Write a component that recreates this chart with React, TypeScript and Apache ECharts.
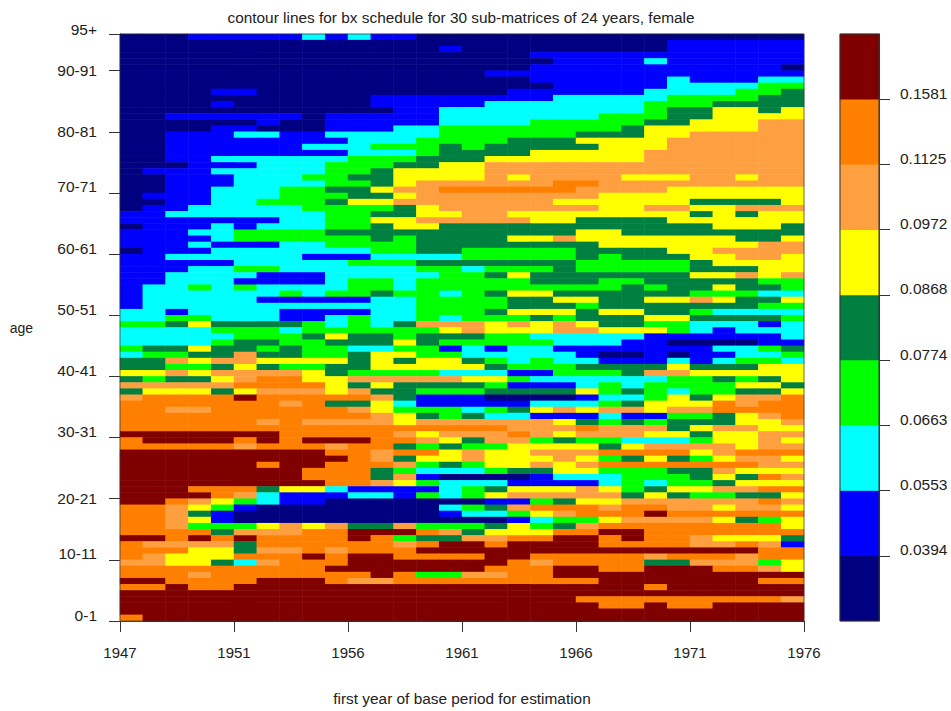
import React, { useEffect, useRef } from "react";
import * as echarts from "echarts";

const years = ["1947","1948","1949","1950","1951","1952","1953","1954","1955","1956","1957","1958","1959","1960","1961","1962","1963","1964","1965","1966","1967","1968","1969","1970","1971","1972","1973","1974","1975","1976"];
const xTickValues = [0, 5, 10, 15, 20, 25, 30];
const xTickLabels = ["1947", "1951", "1956", "1961", "1966", "1971", "1976"];
const ageTickValues = [0, 10, 20, 30, 40, 50, 60, 70, 80, 90, 96];
const ageTickLabels = ["0-1", "10-11", "20-21", "30-31", "40-41", "50-51", "60-61", "70-71", "80-81", "90-91", "95+"];
const ageLabelStyle = ["b", "b", "a", "b", "b", "b", "b", "b", "a", "a", "c"];
const classColors = ["#000080", "#0000ff", "#00ffff", "#00ff00", "#008040", "#ffff00", "#ffa040", "#ff8000", "#800000"];
const barClasses = [0, 1, 2, 3, 4, 5, 6, 7, 8];
const barBreaks = [1, 2, 3, 4, 5, 6, 7, 8];
const barLabels = ["0.0394", "0.0553", "0.0663", "0.0774", "0.0868", "0.0972", "0.1125", "0.1581"];

// contour class of each cell; top row = oldest age (95+), one character per year
const rows = [
"0001111121 2110000000 0000000000",
"0000000000 0000000000 0000111111",
"0000000000 0000100000 0000111111",
"0000000000 0000000011 1111111111",
"0000000000 0000000001 1112111111",
"0000000000 0000000011 1111111110",
"0000000000 0000001111 1111111111",
"0000000000 0000000011 1111211122",
"0000000000 0000000001 1111222233",
"0000110000 0000000111 1112222334",
"0000000000 0111111112 2222333344",
"0000100000 0111112222 2223334444",
"0000000000 0011222222 2223445545",
"0011111101 1111222222 2333445555",
"0000001001 1111222233 3334455566",
"0000110001 1122333333 3345555566",
"0011122112 2222333333 4445566666",
"0011111111 2223333444 5555666666",
"0011111122 2333434444 4555666666",
"0011111111 2223444455 5556666666",
"0011222222 3334445555 5556666666",
"0001112223 3344556666 6666666666",
"0111222223 3455556666 6666666666",
"0011122233 4455556566 6655566566",
"0011122223 3456666667 7666666666",
"0011222334 4566777777 6666555555",
"0111222333 4456666666 6555555555",
"0011223334 5566666665 5555544445",
"0112222233 3345666666 6556655666",
"1122222223 3445566555 5555545455",
"1111111223 3556666655 4444555555",
"0111212223 3455444444 4444445554",
"1112233334 4444444444 5544444444",
"1111233333 3434444556 5555555445",
"1112111223 3334444444 4555555566",
"0111222222 2334433333 4444556666",
"1122222211 1222233333 4344455665",
"1111122222 3334444444 3333345555",
"1112233222 2223323334 3333344455",
"1122221112 2222334544 4444455656",
"1122211112 3323333344 4334444433",
"1223232222 3323333333 3343445443",
"1222222323 3433234554 4444433322",
"1222221111 1223333445 5445565445",
"1222222222 2223333444 3444444433",
"2212222111 1223334555 4554432222",
"2233222112 3223233343 4445544443",
"3345444432 3246665656 5443322212",
"2222333233 3333565556 6555321222",
"2222233345 4434443322 2221111112",
"2222344334 4454333332 2211000011",
"3445443433 2233121221 1111112234",
"2334464433 4553322222 1001011223",
"4465665555 4545543232 2111212332",
"4433454334 4555554333 4444544455",
"5565666654 3333222113 3346655555",
"4344567755 6666655322 2222334345",
"6666677775 4544443111 2323333554",
"4555456665 6443334444 5343233445",
"6777787777 7641110000 1223545667",
"7777777674 4521111122 2345557677",
"7766777777 6533323456 5665667777",
"7777777777 7654342211 1211334567",
"7777776766 6656666665 4343444556",
"7777777777 7777777666 7666456655",
"8888888777 7765666765 6665545566",
"7888878788 8776546634 3322235565",
"7777767776 7743433555 5456666566",
"8888888887 7677565566 6777756777",
"8888888888 7645565556 5345435665",
"8888887887 7763435565 6777777766",
"8888888877 7432223445 5333446555",
"8888888877 7461000012 2233345476",
"8888888887 7653222111 1232334555",
"8887774552 1111234555 6534556677",
"8888762111 2213235666 6645433445",
"8876532110 0000001134 5566666676",
"7765310000 0000234677 7677665665",
"7764100000 0000122356 7778777777",
"7765100000 0000000123 3566665435",
"7763335656 4463334534 6777777775",
"7777466677 8887645557 7887777777",
"8878787777 8734466778 8787765554",
"7666647777 7767887888 8777766761",
"7775546676 7778888888 8888888877",
"7655577787 8877778877 7776777677",
"6655426777 8888888767 7774466635",
"7777777778 8888887778 8778887765",
"7776777777 7873366778 8888888888",
"8877778887 6677777777 7888888877",
"7787788888 8888888888 8887888888",
"8888888888 8888888888 8888888888",
"8888888888 8888888888 7777777776",
"8888888888 8888888888 8778778888",
"8888888888 8888888888 8888888888",
"7888888888 8888888888 8888888888",
];

const FONT = "Liberation Sans";
const TEXT = "#222222";
const AXIS = "#333333";

export default function App() {
  const ref = useRef<HTMLDivElement>(null);
  useEffect(() => {
    const chart = echarts.init(ref.current!, undefined, { renderer: "svg" });
    const cells: number[][] = [];
    rows.forEach((row, r) => {
      row.replace(/ /g, "").split("").forEach((c, col) => cells.push([col, r, Number(c)]));
    });
    const axisLine = { show: true, lineStyle: { color: AXIS, width: 1 } };
    const axisTick = (customValues: number[]) => ({
      show: true,
      length: 11,
      customValues,
      lineStyle: { color: AXIS, width: 1 },
    });
    chart.setOption({
      animation: false,
      backgroundColor: "#ffffff",
      textStyle: { fontFamily: FONT },
      title: {
        text: "contour lines for bx schedule for 30 sub-matrices of 24 years, female",
        left: 456,
        top: 5,
        textAlign: "center",
        textStyle: { fontFamily: FONT, fontSize: 15.4, fontWeight: "normal", color: TEXT },
      },
      grid: [
        { left: 120, top: 34, width: 684, height: 587, outerBoundsMode: "none", containLabel: false },
        { left: 840, top: 34, width: 39, height: 587, outerBoundsMode: "none", containLabel: false },
      ],
      visualMap: {
        type: "piecewise",
        show: false,
        seriesIndex: [0, 1],
        dimension: 2,
        pieces: classColors.map((color, i) => ({ value: i, color })),
      },
      graphic: [
        { type: "rect", z: 100, silent: true, shape: { x: 120, y: 34, width: 684, height: 587 }, style: { fill: "none", stroke: AXIS, lineWidth: 1, opacity: 0.7 } },
        { type: "rect", z: 100, silent: true, shape: { x: 840, y: 34, width: 39, height: 587 }, style: { fill: "none", stroke: AXIS, lineWidth: 1 } },
      ],
      xAxis: [
        { type: "category", gridIndex: 0, data: years, show: false },
        {
          type: "value", gridIndex: 0, min: 0, max: 30, interval: 5, position: "bottom",
          name: "first year of base period for estimation",
          nameLocation: "middle",
          nameGap: 70,
          nameTextStyle: { fontFamily: FONT, fontSize: 15.4, color: TEXT },
          axisLine, splitLine: { show: false },
          axisTick: axisTick(xTickValues),
          axisLabel: {
            margin: 24, fontFamily: FONT, fontSize: 15, color: TEXT,
            hideOverlap: false, showMinLabel: true, showMaxLabel: true,
            customValues: xTickValues,
            formatter: (v: number) => xTickLabels[xTickValues.indexOf(v)] ?? "",
          },
        },
        { type: "category", gridIndex: 1, data: ["bar"], show: false },
      ],
      yAxis: [
        { type: "category", gridIndex: 0, inverse: true, data: rows.map((_, i) => String(i)), show: false },
        {
          type: "value", gridIndex: 0, min: 0, max: 96, position: "left",
          name: "age",
          nameLocation: "middle",
          nameRotate: 0,
          nameGap: 87,
          nameTextStyle: { fontFamily: FONT, fontSize: 14, color: TEXT },
          axisLine, splitLine: { show: false },
          axisTick: axisTick(ageTickValues),
          axisLabel: {
            margin: 23, fontFamily: FONT, fontSize: 15.5, color: TEXT,
            hideOverlap: false, showMinLabel: true, showMaxLabel: true,
            customValues: ageTickValues,
            formatter: (v: number) => {
              const i = ageTickValues.indexOf(v);
              return i < 0 ? "" : `{${ageLabelStyle[i]}|${ageTickLabels[i]}}`;
            },
            rich: {
              a: { fontFamily: FONT, fontSize: 15.5, color: TEXT, padding: [0, 0, 1, 0] },
              b: { fontFamily: FONT, fontSize: 15.5, color: TEXT, padding: [0, 0, 12, 0] },
              c: { fontFamily: FONT, fontSize: 15.5, color: TEXT, padding: [0, 0, 9, 0] },
            },
          },
        },
        { type: "category", gridIndex: 1, data: barClasses.map(String), show: false },
        {
          type: "value", gridIndex: 1, min: 0, max: 9, position: "right",
          axisLine, splitLine: { show: false },
          axisTick: axisTick(barBreaks),
          axisLabel: {
            margin: 21, fontFamily: FONT, fontSize: 15.5, color: TEXT,
            hideOverlap: false,
            customValues: barBreaks,
            formatter: (v: number) => {
              const i = barBreaks.indexOf(v);
              return i < 0 ? "" : `{b|${barLabels[i]}}`;
            },
            rich: { b: { fontFamily: FONT, fontSize: 15.5, color: TEXT, padding: [0, 0, 12, 0] } },
          },
        },
      ],
      series: [
        {
          type: "heatmap", xAxisIndex: 0, yAxisIndex: 0, data: cells,
          silent: true, progressive: 0, itemStyle: { borderWidth: 0 },
        },
        {
          type: "heatmap", xAxisIndex: 2, yAxisIndex: 2,
          data: barClasses.map((c) => [0, c, c]),
          silent: true, itemStyle: { borderWidth: 0 },
        },
      ],
    });
    return () => chart.dispose();
  }, []);
  return <div ref={ref} style={{ position: "fixed", left: 0, top: 0, width: 951, height: 711 }} />;
}
